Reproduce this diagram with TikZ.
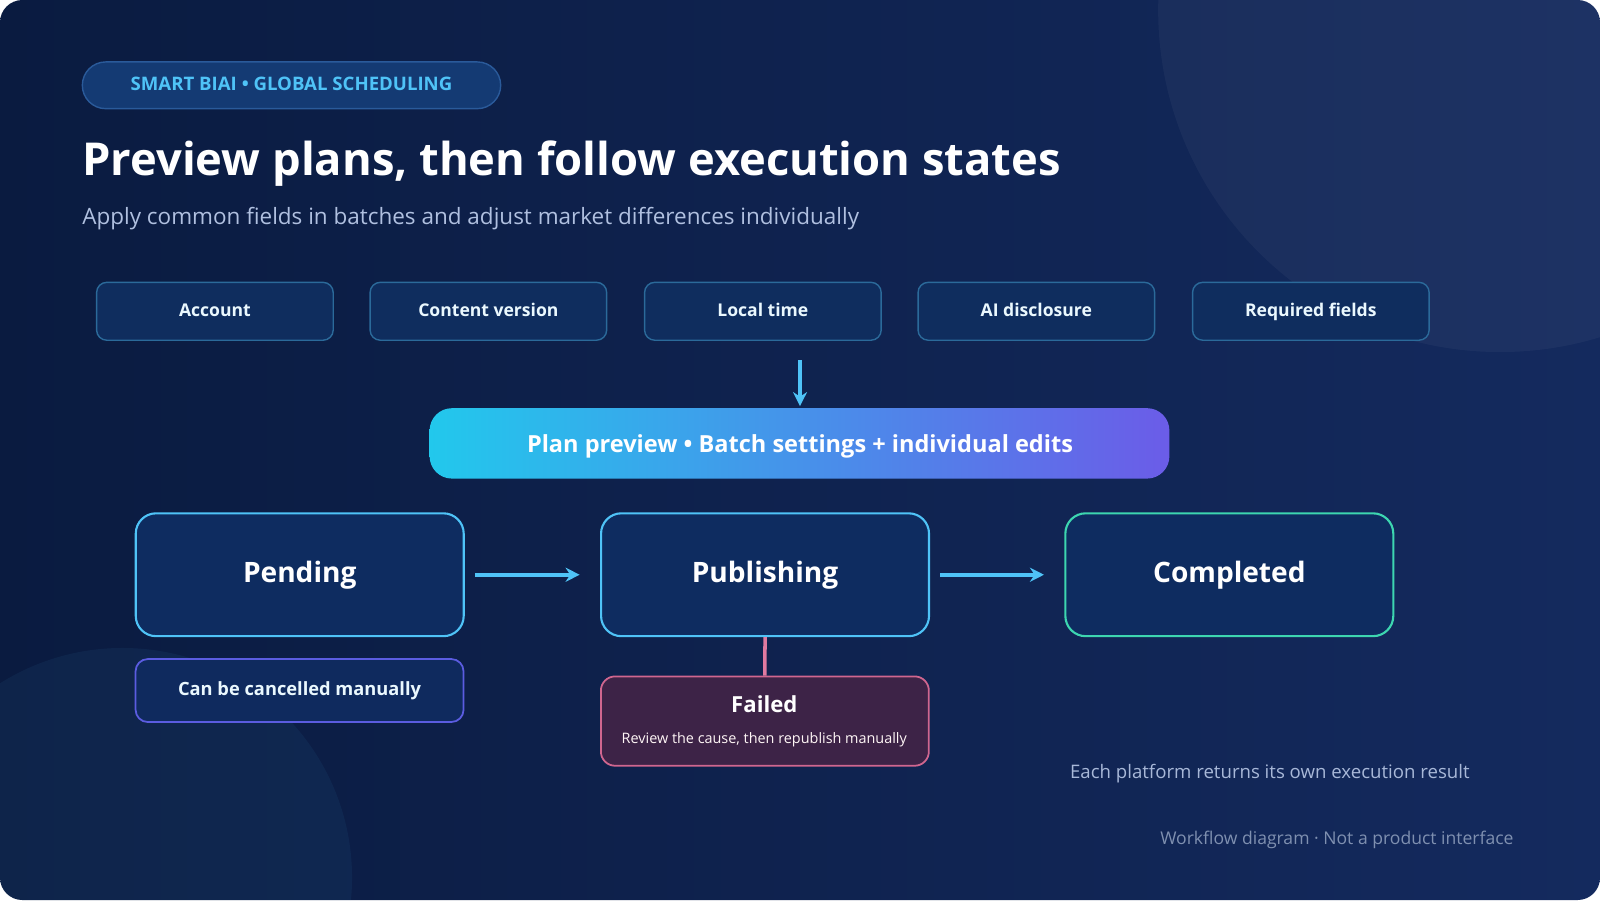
\documentclass[tikz,border=0pt]{standalone}
\usetikzlibrary{arrows.meta}
\usepackage{fontspec}
\setmainfont{Open Sans}
\definecolor{bgA}{HTML}{0A1B40}
\definecolor{bgB}{HTML}{142A5E}
\definecolor{cyanT}{HTML}{4FC3F7}
\definecolor{boxF}{HTML}{0F2D5E}
\definecolor{boxD}{HTML}{2B6A9A}
\definecolor{stF}{HTML}{0E2C60}
\definecolor{subT}{HTML}{B0C0E0}
\definecolor{gL}{HTML}{22C8EC}
\definecolor{gR}{HTML}{6B5CE8}
\definecolor{badgeD}{HTML}{2A5A9A}
\definecolor{badgeF}{HTML}{143A73}
\definecolor{compD}{HTML}{3DD6B0}
\definecolor{canD}{HTML}{5B5CE0}
\definecolor{canF}{HTML}{0F2A5E}
\definecolor{failD}{HTML}{D0668F}
\definecolor{failF}{HTML}{3D2347}
\definecolor{failL}{HTML}{E07AA0}
\definecolor{eachT}{HTML}{A8B8D8}
\definecolor{wfT}{HTML}{7F90B0}
\begin{document}
\begin{tikzpicture}[x=0.0102041cm,y=-0.0102041cm,
  field/.style={draw=boxD,fill=boxF,rounded corners=10*0.289pt,line width=0.4pt,minimum width=233*0.289pt,minimum height=57*0.289pt,text height=3.7pt,text depth=1pt,text=white!88!cyanT,font=\bfseries\fontsize{5}{6}\selectfont,anchor=north west},
  state/.style={draw=cyanT,fill=stF,rounded corners=20*0.289pt,line width=0.6pt,minimum width=323*0.289pt,minimum height=121*0.289pt,text=white,font=\bfseries\fontsize{8}{9}\selectfont,anchor=north west},
  arr/.style={draw=cyanT,line width=1.1pt,-{Stealth[length=4pt,width=4pt]}}]
\useasboundingbox (0,0) rectangle (1568,882);
\fill[white] (0,0) rectangle (1568,882);
\begin{scope}
\clip[rounded corners=22*0.289pt] (0,0) rectangle (1568,882);
\shade[left color=bgA,right color=bgB] (0,0) rectangle (1568,882);
\fill[white,opacity=0.04] (1470,10) circle (335);
\fill[cyanT,opacity=0.06] (120,860) circle (225);
\end{scope}
\node[draw=badgeD,fill=badgeF,rounded corners=23*0.289pt,minimum width=412*0.289pt,minimum height=46*0.289pt,anchor=north west,text=cyanT,text height=3.8pt,text depth=0.8pt,font=\bfseries\fontsize{5.3}{6}\selectfont] (badge) at (80,60) {SMART BIAI • GLOBAL SCHEDULING};
\node[anchor=base west,inner sep=0,text=white,font=\bfseries\fontsize{12.9}{15}\selectfont] (title) at (80,172) {Preview plans, then follow execution states};
\node[anchor=base west,inner sep=0,text=subT,font=\fontsize{6.4}{8}\selectfont] (sub) at (80,220) {Apply common fields in batches and adjust market differences individually};
\node[field] (f1) at (94,276) {Account};
\node[field] (f2) at (362,276) {Content version};
\node[field] (f3) at (631,276) {Local time};
\node[field] (f4) at (899,276) {AI disclosure};
\node[field] (f5) at (1168,276) {Required fields};
\coordinate (a0) at (784,353);
\path[left color=gL,right color=gR,rounded corners=22*0.289pt] (421,400) rectangle (1146,469);
\node[text=white,font=\bfseries\fontsize{6.7}{8}\selectfont] (plan) at (784,437) {Plan preview • Batch settings + individual edits};
\draw[arr] (a0) -- (784,398);
\node[state] (pend) at (132,502) {Pending};
\node[state] (pub) at (588,502) {Publishing};
\node[state,draw=compD] (comp) at (1043,502) {Completed};
\draw[arr] ([xshift=10*0.289pt]pend.east) -- ([xshift=-20*0.289pt]pub.west);
\draw[arr] ([xshift=10*0.289pt]pub.east) -- ([xshift=-20*0.289pt]comp.west);
\node[draw=canD,fill=canF,rounded corners=12*0.289pt,minimum width=323*0.289pt,minimum height=62*0.289pt,anchor=north west,text=white!88!cyanT,font=\bfseries\fontsize{5.2}{6}\selectfont,line width=0.5pt] (cancel) at (132,645) {Can be cancelled manually};
\node[draw=failD,fill=failF,rounded corners=14*0.289pt,minimum width=323*0.289pt,minimum height=88*0.289pt,anchor=north west,line width=0.5pt] (fail) at (588,662) {};
\node[text=white,font=\bfseries\fontsize{6.3}{7}\selectfont] (ft) at (749,690) {Failed};
\node[text=white!85!pink,font=\fontsize{4.1}{5}\selectfont] (fs) at (749,725) {Review the cause, then republish manually};
\draw[draw=failL,line width=1pt] (pub.south) -- (fail.north);
\node[anchor=base west,inner sep=0,text=eachT,font=\fontsize{5.3}{6}\selectfont] (each) at (1048,763) {Each platform returns its own execution result};
\node[anchor=base east,inner sep=0,text=wfT,font=\fontsize{5}{6}\selectfont] (wf) at (1484,828) {Workflow diagram · Not a product interface};
\end{tikzpicture}
\end{document}
